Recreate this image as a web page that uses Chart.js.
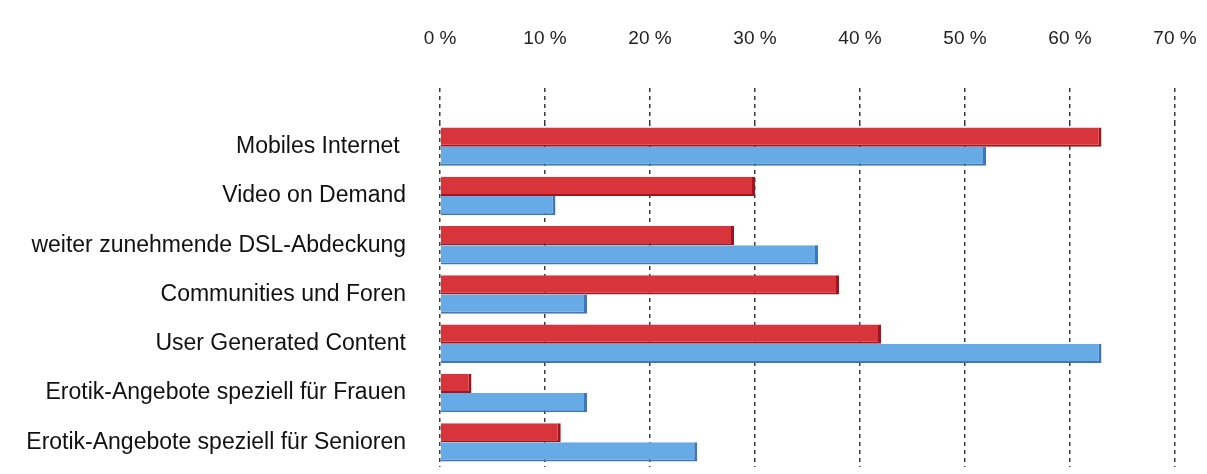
<!DOCTYPE html>
<html>
<head>
<meta charset="utf-8">
<script src="https://cdn.jsdelivr.net/npm/chart.js@4/dist/chart.umd.min.js"></script>
<style>
  html, body { margin: 0; padding: 0; background: #fff; }
  canvas { display: block; }
</style>
</head>
<body>
<canvas id="trendChart" width="1207" height="474"></canvas>
<script>
const FONT_COLOR = "#111111";
const GRID_COLOR = "#3a3a3a";

const categories = [
  "Mobiles Internet ",
  "Video on Demand",
  "weiter zunehmende DSL-Abdeckung",
  "Communities und Foren",
  "User Generated Content",
  "Erotik-Angebote speziell für Frauen",
  "Erotik-Angebote speziell für Senioren",
];
const redValues = [63, 30, 28, 38, 42, 3, 11.5];
const blueValues = [52, 11, 36, 14, 63, 14, 24.5];
const xTicks = [0, 10, 20, 30, 40, 50, 60, 70];

new Chart(document.getElementById("trendChart"), {
  type: "bar",
  data: {
    labels: categories,
    datasets: [
      {
        label: "Reihe 1",
        data: redValues,
        backgroundColor: "#d8343c",
        borderColor: "#a1161d",
        borderWidth: { top: 0, right: 3, bottom: 2, left: 0 },
        borderSkipped: false,
      },
      {
        label: "Reihe 2",
        data: blueValues,
        backgroundColor: "#67abe6",
        borderColor: "#3f78b8",
        borderWidth: { top: 0, right: 3, bottom: 2, left: 0 },
        borderSkipped: false,
      },
    ],
  },
  options: {
    indexAxis: "y",
    responsive: false,
    animation: false,
    layout: { padding: { top: 0, right: 32, bottom: 7, left: 4 } },
    datasets: { bar: { categoryPercentage: 0.78, barPercentage: 1.0 } },
    plugins: {
      legend: { display: false },
      tooltip: { enabled: true },
    },
    scales: {
      x: {
        position: "top",
        min: 0,
        max: 70,
        afterBuildTicks: (axis) => {
          axis.ticks = xTicks.map((v) => ({ value: v }));
        },
        afterFit: (axis) => {
          // fixed axis band, and no extra side padding from the tick labels
          axis.height = 122;
          axis.paddingLeft = 0;
          axis.paddingRight = 0;
        },
        ticks: {
          color: "#222",
          padding: 38,
          font: { family: "Liberation Sans, Arial, sans-serif", size: 19 },
          callback: (v) => v + " %",
        },
        grid: {
          color: GRID_COLOR,
          lineWidth: 1.5,
          tickLength: 34,
          tickColor: GRID_COLOR,
          tickBorderDash: [4, 4],
        },
        border: { display: false, dash: [4, 4] },
      },
      y: {
        afterFit: (axis) => {
          axis.width = 436;
          axis.paddingTop = 0;
          axis.paddingBottom = 0;
        },
        ticks: {
          color: FONT_COLOR,
          padding: 26,
          font: { family: "Liberation Sans, Arial, sans-serif", size: 23 },
        },
        grid: { display: false },
        border: { display: false },
      },
    },
  },
});
</script>
</body>
</html>
